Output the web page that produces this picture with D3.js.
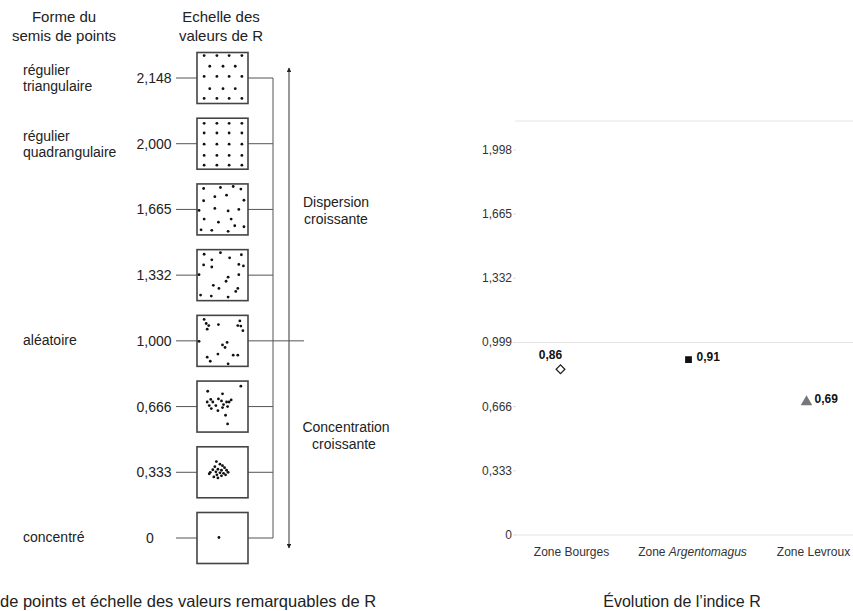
<!DOCTYPE html>
<html>
<head>
<meta charset="utf-8">
<script src="https://cdn.jsdelivr.net/npm/d3@7"></script>
<style>
  html, body { margin: 0; padding: 0; background: #fff; }
  svg { display: block; font-family: "Liberation Sans", Arial, sans-serif; }
</style>
</head>
<body>
<svg id="chart" width="853" height="611"></svg>
<script>
// ---------- Data: left panel (scale of remarkable R values) ----------
const rValueLabels = ["2,148", "2,000", "1,665", "1,332", "1,000", "0,666", "0,333", "0"];
const shapeNames = [["régulier", "triangulaire"], ["régulier", "quadrangulaire"], [], [], ["aléatoire"], [], [], ["concentré"]];
const headerLeft = ["Forme du", "semis de points"];
const headerScale = ["Echelle des", "valeurs de R"];
const dispersionText = ["Dispersion", "croissante"];
const concentrationText = ["Concentration", "croissante"];
const leftCaption = "de points et échelle des valeurs remarquables de R";

// dot patterns inside each box (relative coordinates 0..1)
const dotsTriangular = [[.14,.06],[.39,.06],[.63,.06],[.88,.06],[.25,.27],[.51,.27],[.75,.27],
  [.14,.47],[.39,.47],[.63,.47],[.88,.47],[.25,.71],[.51,.71],[.75,.71],
  [.14,.90],[.39,.90],[.63,.90],[.88,.90]];
const dotsSquare = [[.14,.10],[.39,.10],[.63,.10],[.88,.10],[.14,.29],[.39,.29],[.63,.29],[.88,.29],
  [.14,.51],[.39,.51],[.63,.51],[.88,.51],[.14,.73],[.39,.73],[.63,.73],[.88,.73],
  [.14,.92],[.39,.92],[.63,.92],[.88,.92]];
const dotsR1665 = [[.13,.09],[.46,.07],[.71,.05],[.86,.10],[.35,.25],[.58,.22],[.13,.33],[.92,.32],
  [.04,.52],[.35,.48],[.61,.53],[.82,.50],[.14,.69],[.67,.69],[.42,.75],[.74,.82],[.92,.84],
  [.08,.90],[.29,.91],[.61,.93]];
const dotsR1332 = [[.14,.09],[.46,.06],[.87,.10],[.29,.20],[.64,.16],[.13,.30],[.29,.34],[.82,.29],
  [.91,.32],[.04,.49],[.82,.49],[.61,.54],[.57,.62],[.32,.70],[.43,.76],[.80,.76],[.76,.82],
  [.07,.89],[.28,.91],[.61,.93]];
const dotsRandom = [[.14,.08],[.18,.16],[.23,.20],[.42,.18],[.20,.27],[.84,.11],[.80,.20],[.86,.21],
  [.90,.30],[.04,.51],[.59,.53],[.50,.58],[.55,.63],[.41,.76],[.71,.78],[.80,.78],[.20,.82],
  [.26,.90],[.61,.95]];
const dotsR0666 = [[.86,.10],[.21,.20],[.50,.25],[.27,.36],[.42,.35],[.20,.41],[.31,.41],[.48,.39],
  [.58,.41],[.63,.41],[.67,.37],[.24,.48],[.37,.48],[.52,.46],[.60,.50],[.28,.54],[.41,.58],
  [.50,.52],[.56,.67],[.60,.84]];
const dotsR0333 = [[.38,.29],[.45,.34],[.35,.39],[.50,.37],[.54,.41],[.31,.45],[.41,.44],[.48,.46],
  [.58,.46],[.61,.50],[.26,.50],[.37,.49],[.45,.51],[.52,.52],[.24,.53],[.39,.55],[.48,.57],
  [.56,.55],[.41,.61],[.33,.59]];
const dotsConcentrated = [[.43,.49]];
const dotPatterns = [dotsTriangular, dotsSquare, dotsR1665, dotsR1332, dotsRandom, dotsR0666, dotsR0333, dotsConcentrated];

// ---------- Data: right panel (R index per zone) ----------
const zones = ["Zone Bourges", "Zone Argentomagus", "Zone Levroux"];
const rIndex = [0.86, 0.91, 0.69];
const yTicks = [0, 0.333, 0.666, 0.999, 1.332, 1.665, 1.998];
const gridValues = [0, 0.999, 2.148];
const rightTitle = "Évolution de l’indice R";

// ---------- Drawing ----------
const svg = d3.select("#chart");
const frLocale = d3.formatLocale({decimal: ",", thousands: " ", grouping: [3], currency: ["", " €"]});
const fmt2 = frLocale.format(".2f");
const fmt3 = v => v === 0 ? "0" : frLocale.format(".3f")(v);

// ----- left panel -----
const boxSize = 51;
const boxLeft = 197;
const yBox = d3.scalePoint().domain(rValueLabels).range([78, 538]);
const left = svg.append("g");

// headers
[[headerLeft, 64], [headerScale, 221]].forEach(([lines, cx]) => {
  left.append("text").attr("x", cx).attr("y", 22).attr("text-anchor", "middle")
    .attr("font-size", 15).attr("fill", "#222")
    .selectAll("tspan").data(lines).join("tspan")
    .attr("x", cx).attr("dy", (d, i) => i === 0 ? 0 : 19).text(d => d);
});

// vertical connector and arrow
const connX = 273, arrowX = 289;
left.append("line").attr("x1", connX).attr("x2", connX)
  .attr("y1", yBox(rValueLabels[0])).attr("y2", yBox(rValueLabels[rValueLabels.length - 1]))
  .attr("stroke", "#555").attr("stroke-width", 1);

const defs = svg.append("defs");
defs.append("marker").attr("id", "ah").attr("viewBox", "0 0 10 10").attr("refX", 9).attr("refY", 5)
  .attr("markerWidth", 9).attr("markerHeight", 4.5).attr("orient", "auto-start-reverse")
  .attr("markerUnits", "userSpaceOnUse")
  .append("path").attr("d", "M0,0 L10,5 L0,10 Z").attr("fill", "#222");
left.append("line").attr("x1", arrowX).attr("x2", arrowX)
  .attr("y1", yBox(rValueLabels[0]) - 10).attr("y2", yBox(rValueLabels[rValueLabels.length - 1]) + 10)
  .attr("stroke", "#333").attr("stroke-width", 1)
  .attr("marker-start", "url(#ah)").attr("marker-end", "url(#ah)");

// boxes
const rows = left.selectAll("g.row").data(rValueLabels).join("g").attr("class", "row");
rows.each(function(lab, i) {
  const g = d3.select(this);
  const cy = yBox(lab);
  const top = cy - boxSize / 2;
  g.append("text").attr("x", lab === "0" ? 150 : 154).attr("y", cy + 5).attr("text-anchor", "middle")
    .attr("font-size", 14).attr("fill", "#222").text(lab);
  g.append("line").attr("x1", 176).attr("x2", boxLeft).attr("y1", cy).attr("y2", cy)
    .attr("stroke", "#555").attr("stroke-width", 1);
  g.append("line").attr("x1", boxLeft + boxSize).attr("x2", lab === "1,000" ? 304 : connX)
    .attr("y1", cy).attr("y2", cy).attr("stroke", "#555").attr("stroke-width", 1);
  g.append("rect").attr("x", boxLeft).attr("y", top).attr("width", boxSize).attr("height", boxSize)
    .attr("fill", "#fff").attr("stroke", "#444").attr("stroke-width", 1.6);
  const sx = d3.scaleLinear().domain([0, 1]).range([boxLeft, boxLeft + boxSize]);
  const sy = d3.scaleLinear().domain([0, 1]).range([top, top + boxSize]);
  g.selectAll("circle").data(dotPatterns[i]).join("circle")
    .attr("cx", d => sx(d[0])).attr("cy", d => sy(d[1])).attr("r", 1.4).attr("fill", "#111");
  const names = shapeNames[i];
  if (names.length) {
    const startY = names.length === 2 ? cy - 3 : cy + 4;
    g.append("text").attr("x", 23).attr("y", startY).attr("font-size", 14).attr("fill", "#222")
      .selectAll("tspan").data(names).join("tspan")
      .attr("x", 23).attr("dy", (d, k) => k === 0 ? 0 : 16).text(d => d);
  }
});

// side texts
[[dispersionText, 336, 207], [concentrationText, 346, 432]].forEach(([lines, cx, y0]) => {
  left.append("text").attr("x", cx).attr("y", y0).attr("text-anchor", "middle")
    .attr("font-size", 14).attr("fill", "#222")
    .selectAll("tspan").data(lines).join("tspan")
    .attr("x", (d, k) => k === 0 ? cx : cx - (lines[0] === "Concentration" ? 2 : 0))
    .attr("dy", (d, k) => k === 0 ? 0 : 17).text(d => d);
});

// left caption
left.append("text").attr("x", 0).attr("y", 607).attr("text-anchor", "start")
  .attr("font-size", 16.5).attr("fill", "#222").text(leftCaption);

// ----- right panel -----
const right = svg.append("g");
const y = d3.scaleLinear().domain([0, 2.148]).range([535, 121]);
const x = d3.scaleBand().domain(zones).range([511, 874]);
const plotLeft = 515;

right.selectAll("line.grid").data(gridValues).join("line").attr("class", "grid")
  .attr("x1", plotLeft).attr("x2", 853).attr("y1", d => y(d)).attr("y2", d => y(d))
  .attr("stroke", "#e4e4e4").attr("stroke-width", 1);

right.selectAll("line.tick").data(yTicks).join("line").attr("class", "tick")
  .attr("x1", plotLeft - 2).attr("x2", plotLeft + 1).attr("y1", d => y(d)).attr("y2", d => y(d))
  .attr("stroke", "#ddd").attr("stroke-width", 1);

right.selectAll("text.ylab").data(yTicks).join("text").attr("class", "ylab")
  .attr("x", 512).attr("y", d => y(d) + 4).attr("text-anchor", "end")
  .attr("font-size", 12).attr("fill", "#333").text(d => fmt3(d));

right.selectAll("text.xlab").data(zones).join("text").attr("class", "xlab")
  .attr("x", d => x(d) + x.bandwidth() / 2).attr("y", 556).attr("text-anchor", "middle")
  .attr("font-size", 12).attr("fill", "#333")
  .each(function(d) {
    const t = d3.select(this);
    const parts = d.split(" ");
    t.append("tspan").text(parts[0] + " ");
    t.append("tspan").attr("font-style", d === "Zone Argentomagus" ? "italic" : "normal").text(parts.slice(1).join(" "));
  });

// markers
const markerStyles = [
  {type: d3.symbolSquare, size: 38, rot: 45, fill: "#fff", stroke: "#222", dx: -11},
  {type: d3.symbolSquare, size: 46, rot: 0, fill: "#111", stroke: "none", dx: -4},
  {type: d3.symbolTriangle, size: 58, rot: 0, fill: "#777", stroke: "none", dx: -7}
];
const pts = zones.map((z, i) => ({zone: z, v: rIndex[i], s: markerStyles[i]}));
right.selectAll("path.mk").data(pts).join("path").attr("class", "mk")
  .attr("transform", d => `translate(${x(d.zone) + x.bandwidth() / 2 + d.s.dx},${y(d.v)}) rotate(${d.s.rot})`)
  .attr("d", d => d3.symbol().type(d.s.type).size(d.s.size)())
  .attr("fill", d => d.s.fill).attr("stroke", d => d.s.stroke).attr("stroke-width", 1.3);

right.selectAll("text.vl").data(pts).join("text").attr("class", "vl")
  .attr("x", (d, i) => x(d.zone) + x.bandwidth() / 2 + d.s.dx + (i === 0 ? -10 : 8))
  .attr("y", (d, i) => y(d.v) + (i === 0 ? -10 : 1))
  .attr("text-anchor", (d, i) => i === 0 ? "middle" : "start")
  .attr("font-size", 12).attr("font-weight", "bold").attr("fill", "#111")
  .text(d => fmt2(d.v));

right.append("text").attr("x", 682).attr("y", 607).attr("text-anchor", "middle")
  .attr("font-size", 16).attr("fill", "#222").text(rightTitle);
</script>
</body>
</html>
